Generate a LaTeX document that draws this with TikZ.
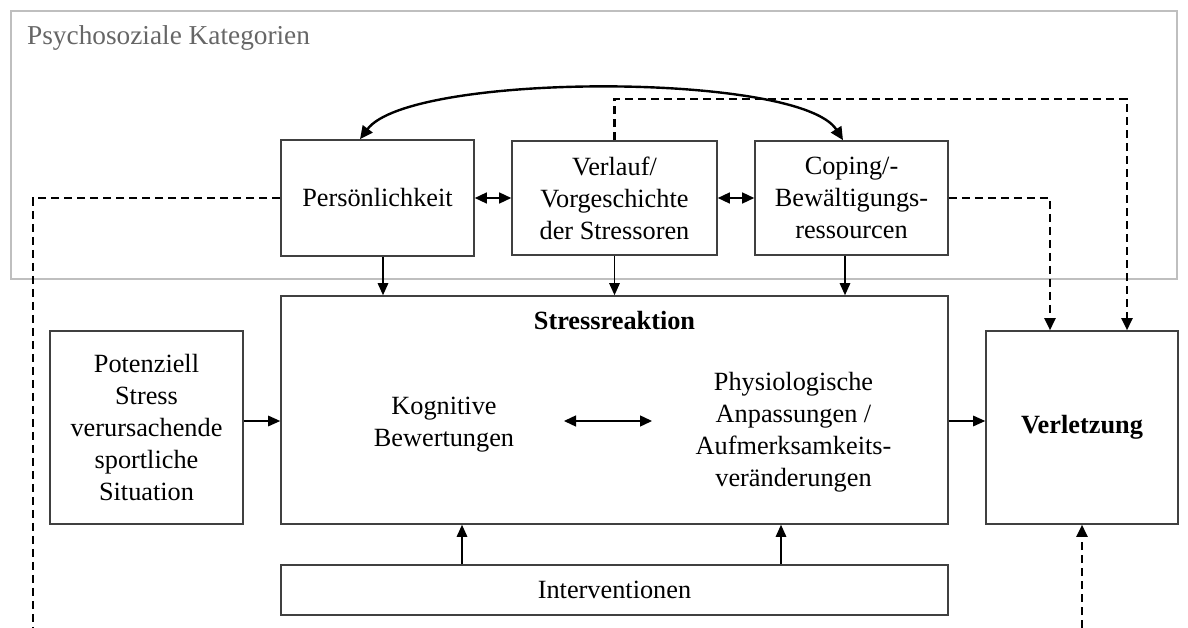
\documentclass[tikz,border=0pt]{standalone}
\usepackage{fontspec}
\setmainfont{Liberation Serif}
\usetikzlibrary{arrows.meta}
\begin{document}
\begin{tikzpicture}[x=1pt,y=-1pt,
  box/.style={draw=black!75,line width=1.6pt,inner sep=0pt,align=center,font=\fontsize{26.3}{32}\selectfont},
  txt/.style={inner sep=0pt,align=center,font=\fontsize{26.3}{32}\selectfont},
  arr/.style={line width=1.4pt,-{Triangle[length=12pt,width=10.5pt]}},
  darr/.style={line width=1.4pt,{Triangle[length=12pt,width=11pt]}-{Triangle[length=12pt,width=11pt]}},
  dline/.style={line width=2.2pt,dash pattern=on 8pt off 5pt,-{Triangle[length=12pt,width=11pt]}},
  dplain/.style={line width=2.2pt,dash pattern=on 8pt off 5pt},
  curvearr/.style={line width=2.4pt,{Triangle[length=13pt,width=12pt]}-{Triangle[length=13pt,width=12pt]}}
]
\useasboundingbox (0,0) rectangle (1188,628);
% outer frame
\node[draw=black!25,line width=2pt,minimum width=1166pt,minimum height=268pt,inner sep=0pt] (frame) at (594,145.5) {};
\node[inner sep=0pt,anchor=base west,text=black!60,font=\fontsize{27.3}{32}\selectfont] (title) at (27,45) {Psychosoziale Kategorien};
% top boxes
\node[box,minimum width=193pt,minimum height=116pt] (pers) at (377.5,198) {Persönlichkeit};
\node[box,minimum width=205pt,minimum height=114pt] (verl) at (614.5,198) {Verlauf/\\Vorgeschichte\\der Stressoren};
\node[box,minimum width=193pt,minimum height=114pt] (cop) at (851.5,198) {Coping/-\\Bewältigungs-\\ressourcen};
% middle
\node[box,minimum width=667pt,minimum height=228pt] (stress) at (614.5,410) {};
\node[txt,font=\fontsize{26.3}{32}\selectfont\bfseries] (sr) at (614.5,321) {Stressreaktion};
\node[txt] (kog) at (444,425) {Kognitive\\Bewertungen};
\node[txt] (phys) at (793.5,432) {Physiologische\\Anpassungen /\\Aufmerksamkeits-\\veränderungen};
\node[box,minimum width=193pt,minimum height=193pt] (pot) at (146.5,427.5) {Potenziell\\Stress\\verursachende\\sportliche\\Situation};
\node[box,minimum width=192pt,minimum height=193pt,font=\fontsize{26.3}{32}\selectfont\bfseries] (verlz) at (1082,427.5) {Verletzung};
\node[box,minimum width=667pt,minimum height=50pt] (inter) at (614.5,590) {Interventionen};
% helper coordinates
\coordinate (ym) at (0,421);
\coordinate (ka) at (564,421);
\coordinate (kb) at (652,421);
\coordinate (ia) at (462,0);
\coordinate (ib) at (781,0);
\coordinate (top) at (1127,99);
\coordinate (lb) at (33,628);
\coordinate (rb) at (1082,628);
% solid arrows
\draw[darr] (pers.east) -- (verl.west);
\draw[darr] (verl.east) -- (cop.west);
\draw[arr] ([xshift=5.5pt]pers.south) -- ([xshift=5.5pt]pers.south |- stress.north);
\draw[arr] (verl.south) -- (stress.north -| verl.south);
\draw[arr] ([xshift=-6.5pt]cop.south) -- ([xshift=-6.5pt]cop.south |- stress.north);
\draw[arr] (pot.east |- ym) -- (stress.west |- ym);
\draw[arr] (stress.east |- ym) -- (verlz.west |- ym);
\draw[darr] (ka) -- (kb);
\draw[arr] (inter.north -| ia) -- (stress.south -| ia);
\draw[arr] (inter.north -| ib) -- (stress.south -| ib);
\draw[curvearr] ([xshift=-17.5pt]pers.north) .. controls (410,72) and (800,72) .. ([xshift=-8.5pt]cop.north);
% dashed
\draw[dline] (verl.north) |- (top) -- (verlz.north -| top);
\draw[dline] (cop.east) -| ([xshift=-32pt]verlz.north);
\draw[dplain] (pers.west) -| (lb);
\draw[dline] (rb) -- (verlz.south);
\end{tikzpicture}
\end{document}
